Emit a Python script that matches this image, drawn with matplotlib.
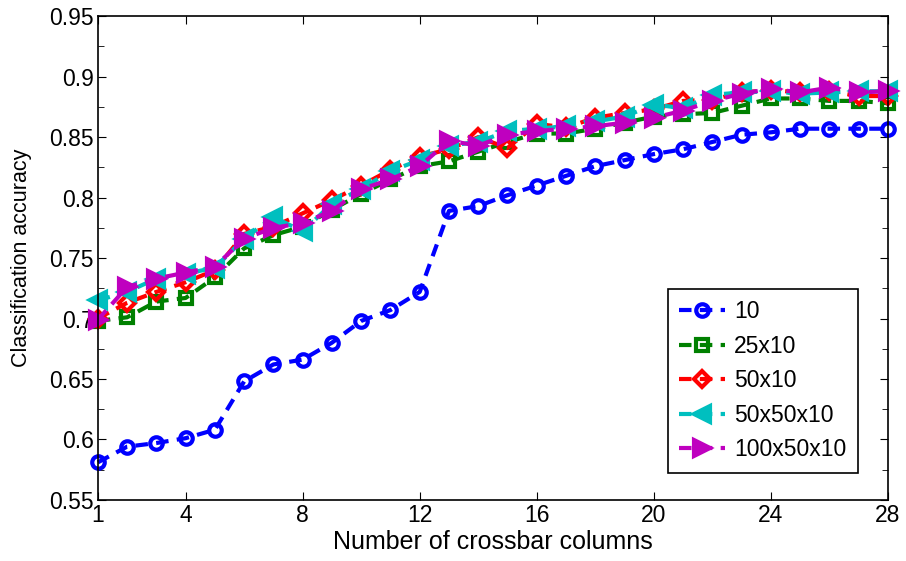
import matplotlib
matplotlib.use('Agg')
import matplotlib.pyplot as plt
from matplotlib.ticker import MultipleLocator

plt.rcParams['font.family'] = ['Liberation Sans', 'DejaVu Sans']

cols = list(range(1, 29))

acc_10 = [0.581, 0.594, 0.597, 0.601, 0.608, 0.648, 0.662, 0.666, 0.680, 0.698,
          0.707, 0.722, 0.789, 0.793, 0.802, 0.810, 0.818, 0.826, 0.831, 0.836,
          0.840, 0.846, 0.852, 0.854, 0.857, 0.857, 0.857, 0.857]
acc_25x10 = [0.698, 0.701, 0.714, 0.717, 0.734, 0.758, 0.769, 0.776, 0.790, 0.803,
             0.815, 0.826, 0.830, 0.838, 0.846, 0.853, 0.853, 0.857, 0.862, 0.867,
             0.869, 0.870, 0.876, 0.882, 0.882, 0.880, 0.880, 0.878]
acc_50x10 = [0.700, 0.713, 0.722, 0.730, 0.740, 0.770, 0.776, 0.787, 0.798, 0.810,
             0.823, 0.834, 0.840, 0.850, 0.841, 0.861, 0.858, 0.866, 0.870, 0.873,
             0.880, 0.881, 0.887, 0.889, 0.887, 0.888, 0.884, 0.884]
acc_50x50x10 = [0.715, 0.722, 0.733, 0.737, 0.742, 0.766, 0.784, 0.772, 0.795, 0.807,
                0.822, 0.831, 0.843, 0.846, 0.855, 0.857, 0.859, 0.863, 0.867, 0.877,
                0.874, 0.885, 0.887, 0.888, 0.886, 0.887, 0.888, 0.888]
acc_100x50x10 = [0.699, 0.726, 0.733, 0.738, 0.743, 0.766, 0.775, 0.779, 0.789, 0.807,
                 0.815, 0.826, 0.847, 0.843, 0.852, 0.855, 0.857, 0.859, 0.862, 0.866,
                 0.872, 0.880, 0.886, 0.890, 0.887, 0.891, 0.887, 0.888]

labels = ['10', '25x10', '50x10', '50x50x10', '100x50x10']
series = [acc_10, acc_25x10, acc_50x10, acc_50x50x10, acc_100x50x10]
colors = ['#0000ff', '#008000', '#ff0000', '#00bfbf', '#bf00bf']
markers = ['o', 's', 'D', '<', '>']
msizes = [9, 8, 8, 11, 11]

fig = plt.figure(figsize=(9.06, 5.61), dpi=100)
ax = fig.add_axes([0.108, 0.109, 0.872, 0.862])

for y, lab, c, m, ms in zip(series, labels, colors, markers, msizes):
    face = 'none' if m in ('o', 's', 'D') else c
    ax.plot(cols, y, linestyle='--', dashes=(3, 2), color=c, linewidth=3,
            marker=m, markersize=ms, markeredgewidth=3, markerfacecolor=face,
            label=lab, clip_on=False)

ax.set_xlim(1, 28)
ax.set_ylim(0.55, 0.95)
ax.set_xticks([1, 4, 8, 12, 16, 20, 24, 28])
ax.set_yticks([0.55, 0.6, 0.65, 0.7, 0.75, 0.8, 0.85, 0.9, 0.95])
ax.set_yticklabels(['0.55', '0.6', '0.65', '0.7', '0.75', '0.8', '0.85', '0.9', '0.95'])
ax.yaxis.set_minor_locator(MultipleLocator(0.025))
ax.tick_params(which='both', direction='in', top=True, right=True, labelsize=16.5)
ax.tick_params(which='major', length=6, pad=3)
ax.tick_params(which='minor', length=4)
for s in ax.spines.values():
    s.set_linewidth(1.2)

ax.set_xlabel('Number of crossbar columns', fontsize=18, labelpad=2)
ax.set_ylabel('Classification accuracy', fontsize=15.5, labelpad=12)

leg = ax.legend(loc='lower right', bbox_to_anchor=(0.962, 0.056), fontsize=16.5,
                fancybox=False, framealpha=1, edgecolor='black',
                handlelength=2.0, handletextpad=0.4, labelspacing=0.5,
                borderpad=0.5, borderaxespad=0)
leg.get_frame().set_linewidth(1.2)

fig.savefig('out.png', dpi=100)
